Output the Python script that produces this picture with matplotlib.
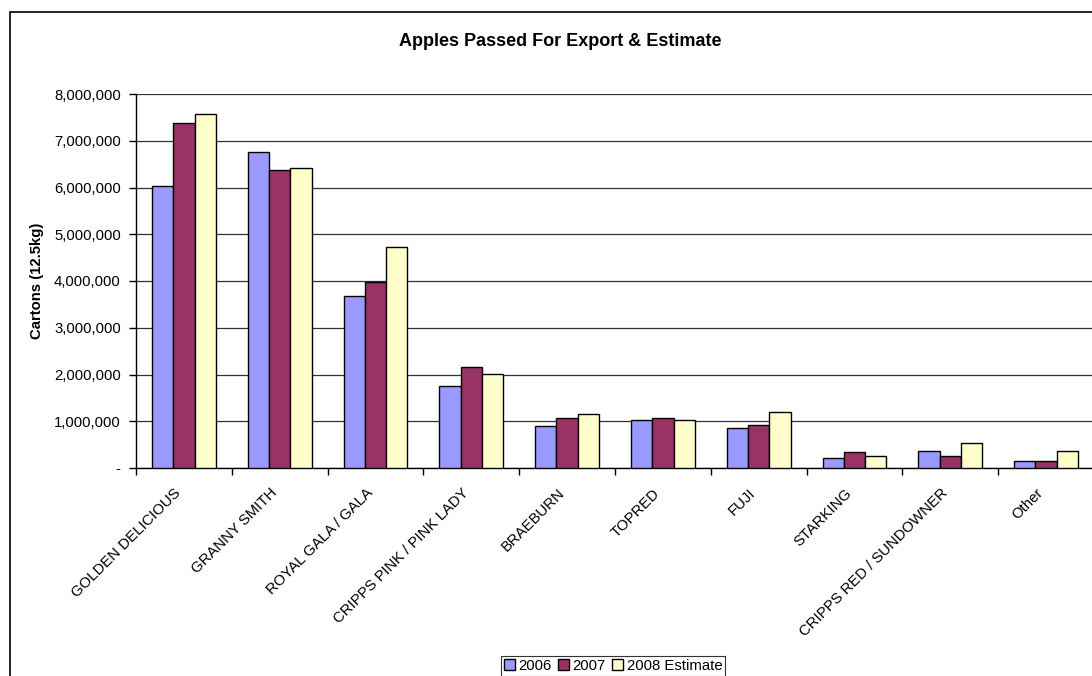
import matplotlib
matplotlib.use("Agg")
import matplotlib.pyplot as plt
import numpy as np
from matplotlib.patches import Rectangle
from matplotlib.ticker import FuncFormatter, MultipleLocator

categories = ["GOLDEN DELICIOUS", "GRANNY SMITH", "ROYAL GALA / GALA",
              "CRIPPS PINK / PINK LADY", "BRAEBURN", "TOPRED", "FUJI",
              "STARKING", "CRIPPS RED / SUNDOWNER", "Other"]
v2006 = [6040000, 6760000, 3680000, 1750000, 900000, 1030000, 850000, 220000, 360000, 160000]
v2007 = [7380000, 6370000, 3970000, 2150000, 1080000, 1080000, 930000, 340000, 260000, 160000]
v2008 = [7580000, 6420000, 4730000, 2020000, 1150000, 1020000, 1190000, 260000, 530000, 360000]
series_names = ["2006", "2007", "2008 Estimate"]
colors = ["#9999FF", "#993366", "#FFFFCC"]

plt.rcParams['font.family'] = ['Liberation Sans', 'DejaVu Sans']
FS = 10.7

W, H = 1092, 676
fig = plt.figure(figsize=(W / 100, H / 100), dpi=100)

# chart area border (extends beyond the right and bottom edges)
fig.patches.append(Rectangle((10 / W, -0.1), 1.2, 1 - 12 / H + 0.1,
                             transform=fig.transFigure, fill=False,
                             edgecolor="black", linewidth=1.2, zorder=0))

ax = fig.add_axes([136 / W, 1 - 468 / H, (1094 - 136) / W, (468 - 94) / H])

x = np.arange(len(categories))
bw = 1 / 4.5
for i, (vals, name, c) in enumerate(zip([v2006, v2007, v2008], series_names, colors)):
    ax.bar(x + (i - 1) * bw, vals, width=bw, color=c, edgecolor="black",
           linewidth=1.0, label=name, zorder=3)

ax.set_xlim(-0.5, len(categories) - 0.5)
ax.set_ylim(0, 8000000)
ax.yaxis.set_major_locator(MultipleLocator(1000000))
ax.yaxis.set_major_formatter(FuncFormatter(lambda v, p: "-" if v == 0 else f"{int(v):,}"))
ax.grid(axis="y", color="#333333", linewidth=0.9, zorder=0)

# category labels (rotated), tick marks at category boundaries
ax.set_xticks(np.arange(len(categories) + 1) - 0.5)
ax.set_xticklabels([])
ax.tick_params(axis="x", length=5, color="black", width=1)
for xi, cat in zip(x, categories):
    ax.annotate(cat, xy=(xi, 0), xycoords=("data", "axes fraction"),
                xytext=(-10, -18), textcoords="offset pixels",
                rotation=45, ha="right", va="top", rotation_mode="anchor",
                fontsize=FS, annotation_clip=False)

ax.tick_params(axis="y", length=5, color="black", width=1, labelsize=FS, pad=6)

for s in ["top", "right"]:
    ax.spines[s].set_visible(False)
ax.spines["left"].set_color("black")
ax.spines["bottom"].set_color("black")
ax.spines["left"].set_linewidth(1.0)
ax.spines["bottom"].set_linewidth(1.0)

ax.set_ylabel("Cartons (12.5kg)", fontsize=FS, fontweight="bold", labelpad=7)

fig.text(560 / W, 1 - 42 / H, "Apples Passed For Export & Estimate", ha="center",
         va="center", fontsize=13, fontweight="bold")

leg = fig.legend(loc="upper center", bbox_to_anchor=(613 / W, 1 - 656 / H),
                 ncol=3, frameon=True, fancybox=False, edgecolor="black",
                 fontsize=FS, handlelength=0.75, handleheight=0.75,
                 handletextpad=0.25, columnspacing=0.4, borderpad=0.2,
                 borderaxespad=0)
leg.get_frame().set_linewidth(0.8)

fig.savefig("out.png", dpi=100)
